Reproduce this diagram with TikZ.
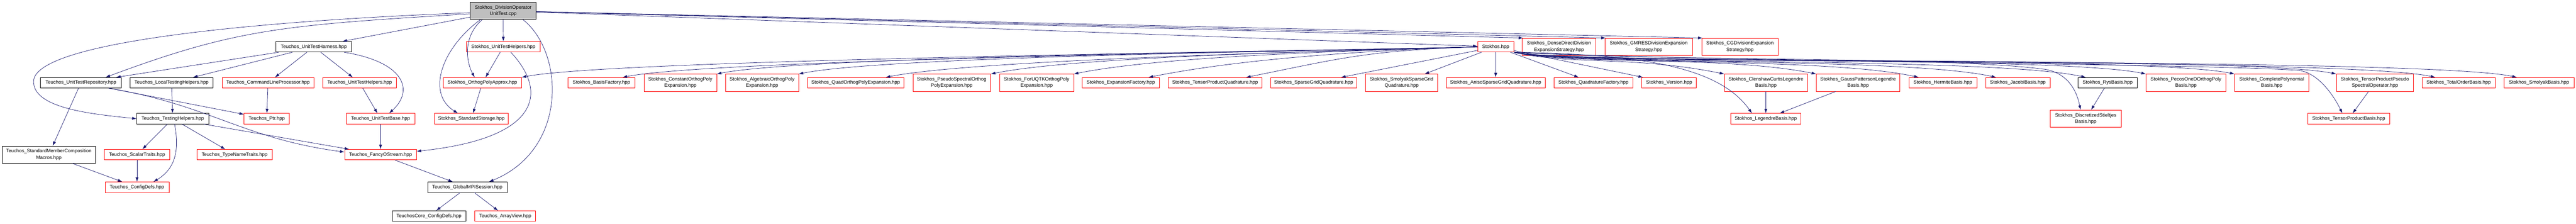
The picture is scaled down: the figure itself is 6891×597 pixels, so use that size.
\documentclass[tikz,border=0pt]{standalone}
\usepackage{fontspec}
\newfontfamily\hfont{Liberation Sans}
\usetikzlibrary{arrows.meta}
\definecolor{edgeblue}{HTML}{191970}
\definecolor{rootgray}{HTML}{BFBFBF}

\tikzset{
    hdr/.style={draw=red, line width=1pt, font={\hfont\fontsize{13}{17}\selectfont},
        inner xsep=4pt, inner ysep=0pt, minimum height=28pt, align=center},
    hdrdoc/.style={hdr, draw=black},
    tall/.style={minimum height=46pt},
    dep/.style={draw=edgeblue, line width=1pt, ->, >={Latex[length=12pt,width=8pt]}}
}

\begin{document}
\begin{tikzpicture}[x=1pt, y=1pt]

    \useasboundingbox (0,0) rectangle (6891,-597);

    % row 0 and row 1
    \node[hdrdoc, tall, fill=rootgray, minimum width=176pt] (root) at (1346,-29) {Stokhos\_DivisionOperator\\UnitTest.cpp};
    \node[hdrdoc, minimum width=203pt] (tharness) at (839.5,-125) {Teuchos\_UnitTestHarness.hpp};
    \node[hdr, minimum width=197pt] (suth) at (1346.5,-125) {Stokhos\_UnitTestHelpers.hpp};
    \node[hdr, minimum width=96pt] (stokhos) at (4001,-125) {Stokhos.hpp};
    \node[hdr, tall, minimum width=197pt] (densediv) at (4170.5,-125) {Stokhos\_DenseDirectDivision\\ExpansionStrategy.hpp};
    \node[hdr, tall, minimum width=235pt] (gmres) at (4410.5,-125) {Stokhos\_GMRESDivisionExpansion\\Strategy.hpp};
    \node[hdr, tall, minimum width=205pt] (cgdiv) at (4654.5,-125) {Stokhos\_CGDivisionExpansion\\Strategy.hpp};

    % row 2
    \node[hdrdoc, minimum width=217pt] (trepo) at (216.5,-221) {Teuchos\_UnitTestRepository.hpp};
    \node[hdrdoc, minimum width=222pt] (tlocal) at (459,-221) {Teuchos\_LocalTestingHelpers.hpp};
    \node[hdr, minimum width=246pt] (tcmdline) at (717,-221) {Teuchos\_CommandLineProcessor.hpp};
    \node[hdr, minimum width=198pt] (tuthelp) at (962,-221) {Teuchos\_UnitTestHelpers.hpp};
    \node[hdr, minimum width=209pt] (opa) at (1290.5,-221) {Stokhos\_OrthogPolyApprox.hpp};
    \node[hdr, minimum width=180pt] (basisfac) at (1609,-221) {Stokhos\_BasisFactory.hpp};
    \node[hdr, tall, minimum width=194pt] (constope) at (1820,-221) {Stokhos\_ConstantOrthogPoly\\Expansion.hpp};
    \node[hdr, tall, minimum width=195pt] (algope) at (2038.5,-221) {Stokhos\_AlgebraicOrthogPoly\\Expansion.hpp};
    \node[hdr, minimum width=258pt] (quadope) at (2289,-221) {Stokhos\_QuadOrthogPolyExpansion.hpp};
    \node[hdr, tall, minimum width=208pt] (pseudoope) at (2546,-221) {Stokhos\_PseudoSpectralOrthog\\PolyExpansion.hpp};
    \node[hdr, tall, minimum width=198pt] (foruqtk) at (2773,-221) {Stokhos\_ForUQTKOrthogPoly\\Expansion.hpp};
    \node[hdr, minimum width=206pt] (expfac) at (2998,-221) {Stokhos\_ExpansionFactory.hpp};
    \node[hdr, minimum width=251pt] (tpquad) at (3250.5,-221) {Stokhos\_TensorProductQuadrature.hpp};
    \node[hdr, minimum width=230pt] (sgquad) at (3514,-221) {Stokhos\_SparseGridQuadrature.hpp};
    \node[hdr, tall, minimum width=193pt] (smolyakquad) at (3749.5,-221) {Stokhos\_SmolyakSparseGrid\\Quadrature.hpp};
    \node[hdr, minimum width=264pt] (anisoquad) at (4001,-221) {Stokhos\_AnisoSparseGridQuadrature.hpp};
    \node[hdr, minimum width=211pt] (quadfac) at (4262.5,-221) {Stokhos\_QuadratureFactory.hpp};
    \node[hdr, minimum width=146pt] (version) at (4465,-221) {Stokhos\_Version.hpp};
    \node[hdr, tall, minimum width=222pt] (clenshaw) at (4724,-221) {Stokhos\_ClenshawCurtisLegendre\\Basis.hpp};
    \node[hdr, tall, minimum width=223pt] (gausspat) at (4970.5,-221) {Stokhos\_GaussPattersonLegendre\\Basis.hpp};
    \node[hdr, minimum width=182pt] (hermite) at (5197,-221) {Stokhos\_HermiteBasis.hpp};
    \node[hdr, minimum width=172pt] (jacobi) at (5398,-221) {Stokhos\_JacobiBasis.hpp};
    \node[hdrdoc, minimum width=158pt] (rys) at (5638,-221) {Stokhos\_RysBasis.hpp};
    \node[hdr, tall, minimum width=213pt] (pecos) at (5847.5,-221) {Stokhos\_PecosOneDOrthogPoly\\Basis.hpp};
    \node[hdr, tall, minimum width=198pt] (complete) at (6077,-221) {Stokhos\_CompletePolynomial\\Basis.hpp};
    \node[hdr, tall, minimum width=206pt] (tppseudo) at (6353,-221) {Stokhos\_TensorProductPseudo\\SpectralOperator.hpp};
    \node[hdr, minimum width=196pt] (totalorder) at (6577,-221) {Stokhos\_TotalOrderBasis.hpp};
    \node[hdr, minimum width=188pt] (smolyak) at (6792,-221) {Stokhos\_SmolyakBasis.hpp};

    % row 3
    \node[hdrdoc, minimum width=192pt] (ttesting) at (462,-317) {Teuchos\_TestingHelpers.hpp};
    \node[hdr, minimum width=121pt] (tptr) at (713.5,-317) {Teuchos\_Ptr.hpp};
    \node[hdr, minimum width=184pt] (tutbase) at (1018,-317) {Teuchos\_UnitTestBase.hpp};
    \node[hdr, minimum width=198pt] (sstorage) at (1261,-317) {Stokhos\_StandardStorage.hpp};
    \node[hdr, minimum width=187pt] (legendre) at (4723.5,-317) {Stokhos\_LegendreBasis.hpp};
    \node[hdr, tall, minimum width=191pt] (dstieltjes) at (5579.5,-317) {Stokhos\_DiscretizedStieltjes\\Basis.hpp};
    \node[hdr, minimum width=220pt] (tpbasis) at (6283,-317) {Stokhos\_TensorProductBasis.hpp};

    % rows 4 to 6
    \node[hdrdoc, tall, minimum width=249pt] (tsmcm) at (130.5,-413) {Teuchos\_StandardMemberComposition\\Macros.hpp};
    \node[hdr, minimum width=175pt] (tscalar) at (366.5,-413) {Teuchos\_ScalarTraits.hpp};
    \node[hdr, minimum width=201pt] (ttypename) at (627.5,-413) {Teuchos\_TypeNameTraits.hpp};
    \node[hdr, minimum width=192pt] (tfancy) at (1018,-413) {Teuchos\_FancyOStream.hpp};
    \node[hdr, minimum width=171pt] (tconfig) at (366.5,-500) {Teuchos\_ConfigDefs.hpp};
    \node[hdrdoc, minimum width=212pt] (tmpi) at (1250,-500) {Teuchos\_GlobalMPISession.hpp};
    \node[hdrdoc, minimum width=197pt] (tccore) at (1147.5,-577) {TeuchosCore\_ConfigDefs.hpp};
    \node[hdr, minimum width=163pt] (tarrayview) at (1351.5,-577) {Teuchos\_ArrayView.hpp};

    % includes of the test file
    \draw[dep] (root) -- (tharness);
    \draw[dep] ([yshift=-8pt]root.west) .. controls +(-500,-30) and +(350,130) .. ([xshift=66pt]trepo.north);
    \draw[dep] ([yshift=-5pt]root.west) .. controls (700,-55) and (100,-110) .. (90,-215)
        .. controls (85,-290) and (250,-305) .. (ttesting.west);
    \draw[dep] (root) -- (suth);
    \draw[dep] ([xshift=-56pt]root.south) .. controls (1240,-95) and (1245,-160) .. ([xshift=-21pt]opa.north);
    \draw[dep] ([xshift=-61pt]root.south) .. controls (1180,-130) and (1140,-250) .. ([xshift=-36pt]sstorage.north);
    \draw[dep] ([xshift=53pt]root.south) .. controls (1510,-140) and (1520,-400) .. ([xshift=58pt]tmpi.north);
    \draw[dep] (root) -- (stokhos);
    \draw[dep] (root) -- ([xshift=3pt]densediv.north west);
    \draw[dep] (root) -- ([xshift=3pt]gmres.north west);
    \draw[dep] (root) -- ([xshift=3pt]cgdiv.north west);

    % Teuchos side
    \draw[dep] (tharness) -- (trepo);
    \draw[dep] (tharness) -- (tlocal);
    \draw[dep] (tharness) -- (tcmdline);
    \draw[dep] (tharness) -- (tuthelp);
    \draw[dep] ([xshift=81pt]tharness.south) .. controls (1080,-165) and (1110,-240) .. ([xshift=23pt]tutbase.north);
    \draw[dep] (trepo) -- (tsmcm);
    \draw[dep] (trepo) -- (tptr);
    \draw[dep] ([xshift=74pt]trepo.south) .. controls (560,-280) and (650,-370) .. ([yshift=7pt]tfancy.west);
    \draw[dep] (tlocal) -- (ttesting);
    \draw[dep] (tcmdline) -- (tptr);
    \draw[dep] (tuthelp) -- (tutbase);
    \draw[dep] (ttesting) -- (tscalar);
    \draw[dep] ([xshift=5pt]ttesting.south) .. controls (480,-400) and (470,-450) .. ([xshift=44pt]tconfig.north);
    \draw[dep] (ttesting) -- (ttypename);
    \draw[dep] (ttesting) -- (tfancy);
    \draw[dep] (tsmcm) -- (tconfig);
    \draw[dep] (tscalar) -- (tconfig);
    \draw[dep] (tutbase) -- (tfancy);
    \draw[dep] (tfancy) -- (tmpi);
    \draw[dep] (tmpi) -- (tccore);
    \draw[dep] (tmpi) -- (tarrayview);
    \draw[dep] (suth) -- (opa);
    \draw[dep] ([xshift=20pt]suth.south) .. controls (1470,-250) and (1440,-370) .. ([yshift=9pt]tfancy.east);
    \draw[dep] (opa) -- (sstorage);

    % Stokhos.hpp to the left
    \draw[dep] (stokhos.west) .. controls +(-300,-10) and +(250,50) .. (opa.north east);
    \draw[dep] (stokhos.west) .. controls +(-300,-10) and +(250,50) .. ([xshift=-34pt]basisfac.north east);
    \draw[dep] (stokhos.west) .. controls +(-300,-10) and +(250,50) .. (constope.north east);
    \draw[dep] (stokhos.west) .. controls +(-300,-10) and +(250,50) .. (algope.north east);
    \draw[dep] (stokhos.west) .. controls +(-300,-10) and +(250,50) .. ([xshift=-49pt]quadope.north east);
    \draw[dep] (stokhos.west) .. controls +(-300,-10) and +(250,50) .. (pseudoope.north east);
    \draw[dep] (stokhos.west) .. controls +(-300,-10) and +(250,50) .. (foruqtk.north east);
    \draw[dep] (stokhos.west) .. controls +(-300,-10) and +(250,50) .. ([xshift=-29pt]expfac.north east);
    \draw[dep] (stokhos.west) .. controls +(-300,-10) and +(250,50) .. ([xshift=-43pt]tpquad.north east);
    \draw[dep] (stokhos) -- (sgquad);
    \draw[dep] (stokhos) -- (smolyakquad);
    \draw[dep] (stokhos) -- (anisoquad);
    \draw[dep] (stokhos) -- (quadfac);
    \draw[dep] (stokhos) -- (version);

    % Stokhos.hpp to the right
    \draw[dep] (stokhos.south east) .. controls +(150,-35) and +(-250,50) .. (clenshaw.north west);
    \draw[dep] (stokhos.south east) .. controls +(150,-35) and +(-250,50) .. (gausspat.north west);
    \draw[dep] (stokhos.south east) .. controls +(150,-35) and +(-250,55) .. ([xshift=27pt]hermite.north west);
    \draw[dep] (stokhos.south east) .. controls +(150,-35) and +(-250,55) .. ([xshift=28pt]jacobi.north west);
    \draw[dep] (stokhos.south east) .. controls +(150,-35) and +(-250,55) .. ([xshift=21pt]rys.north west);
    \draw[dep] (stokhos.south east) .. controls +(150,-35) and +(-250,50) .. (pecos.north west);
    \draw[dep] (stokhos.south east) .. controls +(150,-35) and +(-250,50) .. (complete.north west);
    \draw[dep] (stokhos.south east) .. controls +(150,-35) and +(-250,50) .. (tppseudo.north west);
    \draw[dep] (stokhos.south east) .. controls +(150,-35) and +(-250,55) .. ([xshift=36pt]totalorder.north west);
    \draw[dep] (stokhos.south east) .. controls +(150,-35) and +(-250,55) .. ([xshift=35pt]smolyak.north west);
    \draw[dep] (stokhos.south east) .. controls (4400,-145) and (4600,-180) .. ([xshift=-37pt]legendre.north);
    \draw[dep] (stokhos.south east) .. controls (4500,-165) and (5200,-150) .. (5470,-185)
        .. controls (5530,-195) and (5555,-240) .. ([xshift=-14pt]dstieltjes.north);
    \draw[dep] (stokhos.south east) .. controls (4600,-165) and (5900,-170) .. (6150,-188)
        .. controls (6200,-195) and (6240,-250) .. ([xshift=-17pt]tpbasis.north);
    \draw[dep] (clenshaw) -- (legendre);
    \draw[dep] (gausspat) -- (legendre);
    \draw[dep] (rys) -- (dstieltjes);
    \draw[dep] (tppseudo) -- (tpbasis);

\end{tikzpicture}
\end{document}
